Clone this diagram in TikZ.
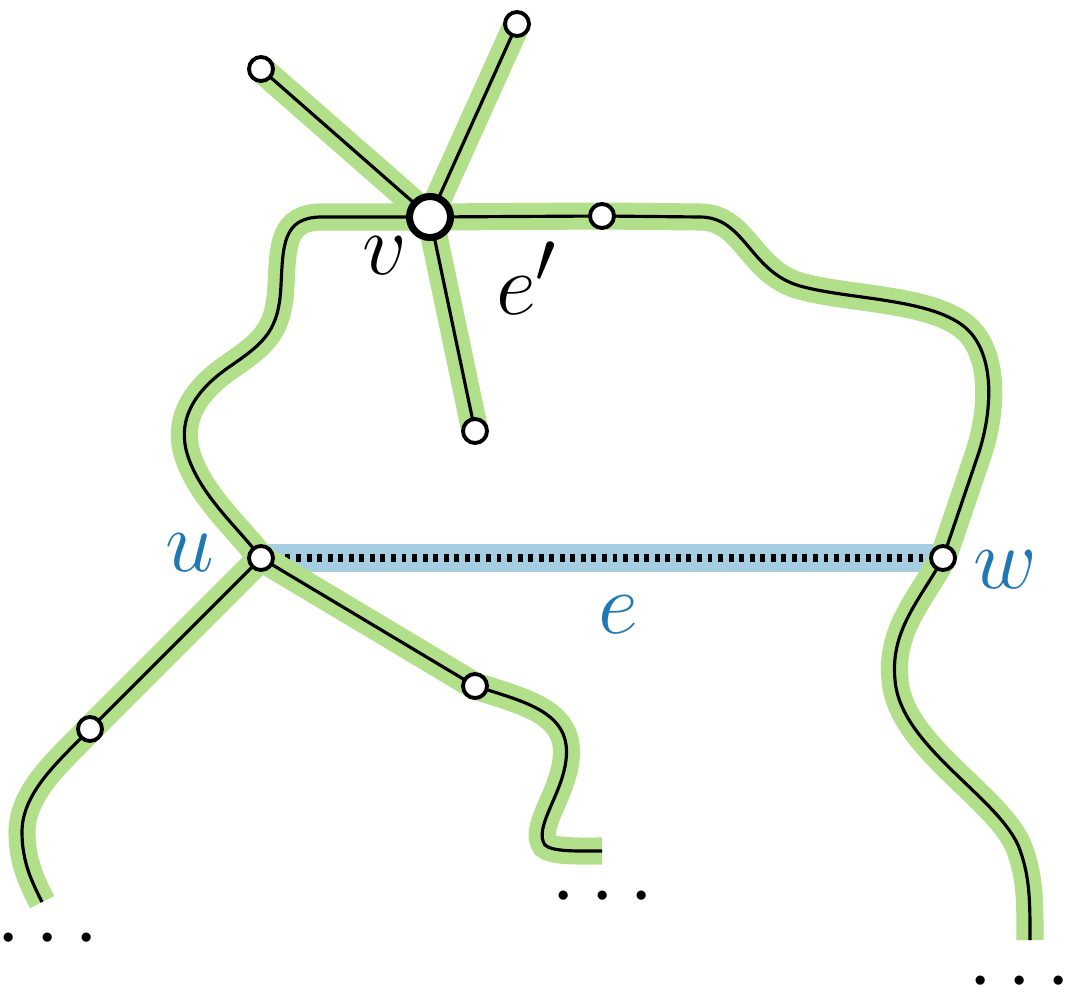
\documentclass[tikz,border=0pt]{standalone}
\usepackage{amsmath,amssymb}
\usepackage{xcolor}
\usepackage{tikz}
\usetikzlibrary{backgrounds}

\definecolor{treegreen}{RGB}{178,223,138}
\definecolor{edgeblue}{RGB}{166,206,227}
\definecolor{labelblue}{RGB}{31,120,180}

% the tree, drawn twice (green band, then black line)
\newcommand{\treepaths}{
  (v.center) -- (a.center)
  (v.center) -- (b.center)
  (v.center) -- (c.center)
  (v.center) -- (d.center) -- (700,217) .. controls (745,217) and (750,272) .. (800,286)
    .. controls (850,300) and (935,298) .. (968,330) .. controls (998,360) and (990,420) .. (978,455)
    -- (w.center) .. controls (920,600) and (890,630) .. (895,680)
    .. controls (900,745) and (995,795) .. (1018,845) .. controls (1030,875) and (1030,900) .. (endr)
  (v.center) -- (320,217) .. controls (283,218) and (283,245) .. (281,285)
    .. controls (279,330) and (265,342) .. (232,365) .. controls (190,393) and (175,425) .. (190,462)
    .. controls (205,500) and (240,530) .. (u.center)
  (u.center) -- (f.center) .. controls (60,760) and (22,792) .. (22,832)
    .. controls (22,862) and (32,882) .. (endl)
  (u.center) -- (g.center) .. controls (525,702) and (572,712) .. (566,760)
    .. controls (562,795) and (533,828) .. (545,845) .. controls (552,852) and (580,851) .. (endm)
}

\begin{document}
\begin{tikzpicture}[x=0.01cm,y=-0.01cm,
  every node/.style={font=\fontsize{30}{36}\selectfont},
  vert/.style={circle,draw,fill=white,inner sep=0pt,minimum size=0.24cm,line width=1.1pt},
  bigvert/.style={vert,minimum size=0.41cm,line width=2pt},
  dotsnode/.style={font=\fontsize{23}{28}\selectfont,inner sep=0pt},
  greenband/.style={draw=treegreen,line width=7.7pt},
  treeline/.style={draw=black,line width=0.9pt},
  blueband/.style={draw=edgeblue,line width=7.7pt},
  nontree/.style={draw=black,line width=2pt,dash pattern=on 1.4pt off 1.6pt}]
  \useasboundingbox (0,0) rectangle (1068,991);

  % vertices
  \node[bigvert] (v) at (430,217) {};
  \node[vert] (a) at (261,69) {};
  \node[vert] (b) at (517,24) {};
  \node[vert] (c) at (475,431) {};
  \node[vert] (d) at (602,216) {};
  \node[vert] (u) at (261,558) {};
  \node[vert] (w) at (943,558) {};
  \node[vert] (f) at (90,729) {};
  \node[vert] (g) at (475,686) {};
  \coordinate (endl) at (42,902);
  \coordinate (endm) at (602,851);
  \coordinate (endr) at (1030,940);

  % labels
  \node (vlab) at (385,256) {$v$};
  \node (elab) at (527,278) {$e'$};
  \node[text=labelblue] (ulab) at (190,553) {$u$};
  \node[text=labelblue] (wlab) at (1005,570) {$w$};
  \node[text=labelblue] (nlab) at (618,615) {$e$};
  \node[dotsnode] (dl) at (55,940) {$\cdots$};
  \node[dotsnode] (dm) at (610,898) {$\cdots$};
  \node[dotsnode] (dr) at (1027,983) {$\cdots$};

  \begin{scope}[on background layer]
    \draw[blueband] (u.center) -- (w.center);
    \draw[nontree] (u) -- (w);
    \draw[greenband] \treepaths;
    \draw[treeline] \treepaths;
  \end{scope}
\end{tikzpicture}
\end{document}
